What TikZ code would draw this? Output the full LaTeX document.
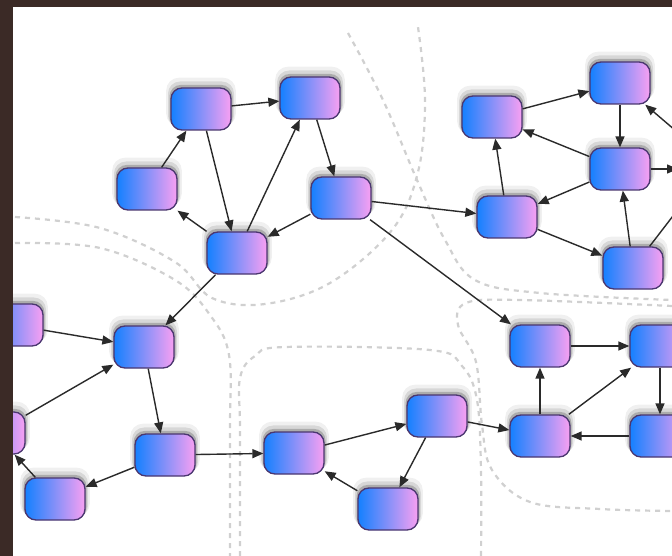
\documentclass[tikz,border=0pt]{standalone}
\usetikzlibrary{arrows.meta,shadows}
\definecolor{nblue}{HTML}{1480FF}
\definecolor{npink}{HTML}{F8A0F2}
\definecolor{nedge}{HTML}{4A3670}
\definecolor{ecol}{HTML}{2A2A2A}
\definecolor{dashc}{HTML}{D0D0D0}
\definecolor{framec}{HTML}{3B2A26}
\begin{document}
\begin{tikzpicture}[x=1pt,y=-1pt,
  nd/.style={rounded corners=11pt, minimum width=60pt, minimum height=42pt, inner sep=0pt,
    left color=nblue, right color=npink, draw=nedge, line width=1.3pt,
    general shadow={shadow yshift=6pt, shadow scale=1.16, fill=black, opacity=.06},
    general shadow={shadow yshift=4pt, shadow scale=1.10, fill=black, opacity=.10},
    general shadow={shadow yshift=2pt, shadow scale=1.05, fill=black, opacity=.20}},
  ar/.style={draw=ecol, line width=1.4pt, -{Triangle[length=11pt,width=9pt]}},
  ln/.style={draw=ecol, line width=1.4pt},
  dsh/.style={draw=dashc, line width=2.2pt, dash pattern=on 5pt off 5pt}]
\useasboundingbox (0,0) rectangle (672,556);
\clip (0,0) rectangle (672,556);
\fill[white] (0,0) rectangle (672,556);
% dashed region boundaries
\draw[dsh] plot[smooth, tension=0.6] coordinates {(15,217) (100,228) (175,262) (212,298) (265,304) (330,283) (392,230) (418,172) (425,100) (418,27)};
\draw[dsh] plot[smooth, tension=0.6] coordinates {(15,243) (100,248) (175,280) (210,315) (229,355) (230,430) (230,556)};
\draw[dsh] plot[smooth, tension=0.6] coordinates {(348,33) (383,100) (417,180) (445,240) (475,280) (540,293) (672,300)};
\draw[dsh] plot[smooth, tension=0.6] coordinates {(240,556) (240,430) (240,378) (255,356) (285,347) (430,350) (462,366) (477,400) (481,470) (481,556)};
\draw[dsh] plot[smooth, tension=0.6] coordinates {(672,306) (520,300) (466,303) (458,325) (476,362) (482,425) (492,470) (530,502) (600,509) (672,511)};
% nodes
\node[nd] (A) at (201,109) {};
\node[nd] (B) at (310,98) {};
\node[nd] (C) at (147,189) {};
\node[nd] (D) at (237,253) {};
\node[nd] (E) at (341,198) {};
\node[nd] (F) at (492,117) {};
\node[nd] (G) at (620,83) {};
\node[nd] (H) at (620,169) {};
\node[nd] (I) at (507,217) {};
\node[nd] (J) at (633,268) {};
\node[nd] (K) at (13,325) {};
\node[nd] (L) at (144,347) {};
\node[nd] (M) at (-5,433) {};
\node[nd] (N) at (55,499) {};
\node[nd] (O) at (165,455) {};
\node[nd] (P) at (294,453) {};
\node[nd] (Q) at (437,416) {};
\node[nd] (R) at (388,509) {};
\node[nd] (S) at (540,346) {};
\node[nd] (T) at (540,436) {};
\node[nd] (U) at (660,346) {};
\node[nd] (V) at (660,436) {};
\coordinate (hx) at (678,169);
\coordinate (gx) at (676,131);
\coordinate (jx) at (676,212);
% edges
\draw[ar] (A) -- (B);
\draw[ar] (C) -- (A);
\draw[ar] (A) -- (D);
\draw[ar] (D) -- (B);
\draw[ar] (D) -- (C);
\draw[ar] (B) -- (E);
\draw[ar] (E) -- (D);
\draw[ar] (D) -- (L);
\draw[ar] (E) -- (I);
\draw[ar] (E) -- (S);
\draw[ar] (F) -- (G);
\draw[ar] (H) -- (F);
\draw[ar] (I) -- (F);
\draw[ar] (G) -- (H);
\draw[ar] (H) -- (I);
\draw[ar] (I) -- (J);
\draw[ar] (J) -- (H);
\draw[ar] (H) -- (hx);
\draw[ar] (gx) -- (G);
\draw[ln] (J) -- (jx);
\draw[ar] (K) -- (L);
\draw[ar] (M) -- (L);
\draw[ar] (L) -- (O);
\draw[ar] (O) -- (N);
\draw[ar] (N) -- (M);
\draw[ar] (O) -- (P);
\draw[ar] (P) -- (Q);
\draw[ar] (Q) -- (R);
\draw[ar] (R) -- (P);
\draw[ar] (Q) -- (T);
\draw[ar] (T) -- (S);
\draw[ar] (S) -- (U);
\draw[ar] (T) -- (U);
\draw[ar] (U) -- (V);
\draw[ar] (V) -- (T);
% frame
\fill[framec] (0,0) rectangle (13,556);
\fill[framec] (0,0) rectangle (672,7);
\end{tikzpicture}
\end{document}
